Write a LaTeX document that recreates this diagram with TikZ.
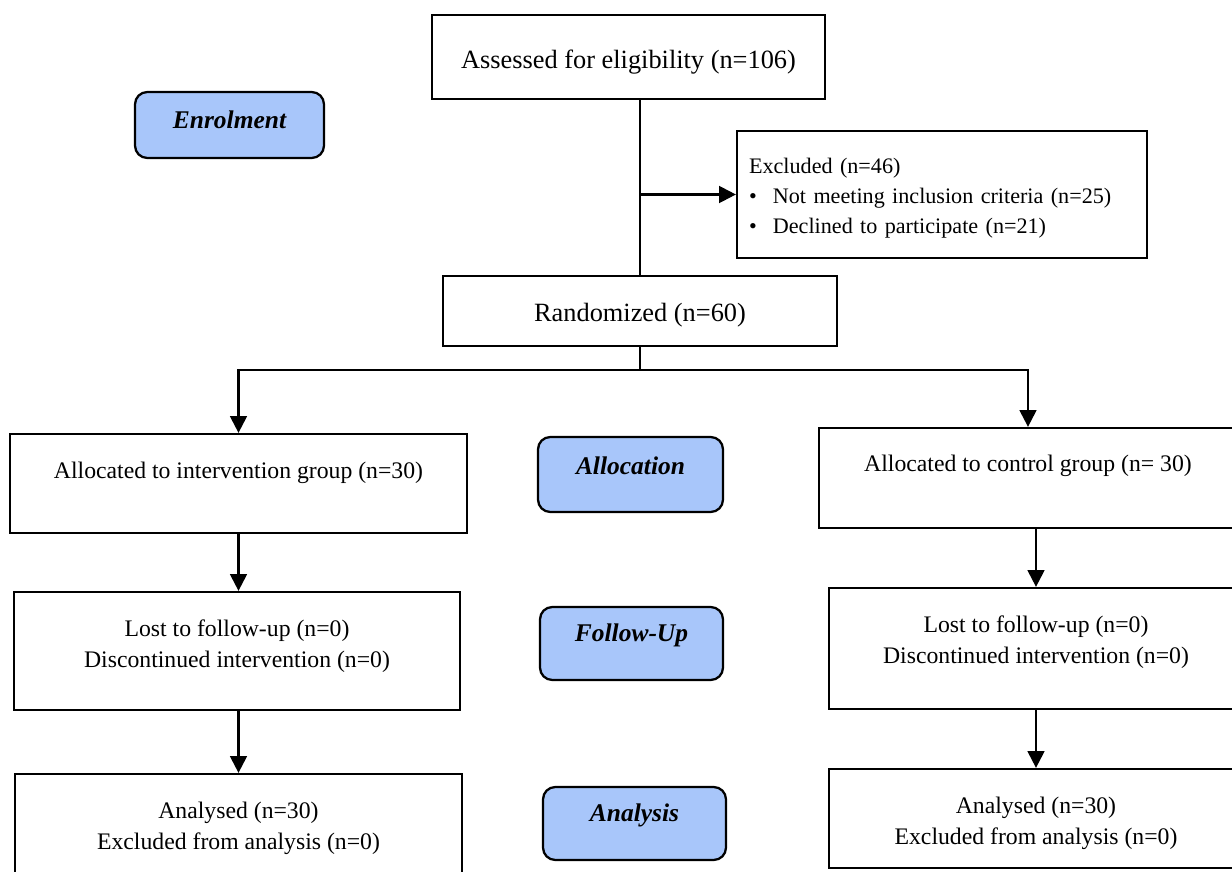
\documentclass[tikz,border=0pt]{standalone}
\usepackage{fontspec}
\setmainfont{Liberation Serif}
\usetikzlibrary{arrows.meta}
\definecolor{stageblue}{RGB}{168,198,250}
% struts to move node text up (depth) or down (height)
\newcommand{\lowstrut}[1]{\rule[-#1]{0pt}{#1}}
\newcommand{\highstrut}[1]{\rule{0pt}{#1}}

\begin{document}
\begin{tikzpicture}[x=0.02cm, y=-0.02cm,
    box/.style={draw, line width=1.3pt, align=center, inner sep=0pt, font=\fontsize{13.5}{17.5}\selectfont},
    bigbox/.style={box, font=\fontsize{15}{18}\selectfont},
    stage/.style={draw, line width=1.3pt, fill=stageblue, rounded corners=7pt, inner sep=0pt,
      minimum height=1.46cm, font=\fontsize{14.5}{17}\selectfont\bfseries\itshape},
    link/.style={line width=1.3pt},
    arr/.style={link, -{Triangle[length=9.5pt, width=9.5pt]}}]
  \clip (0, 0) rectangle (1232, 872);
  % stage labels
  \node[stage, minimum width=3.78cm, minimum height=1.32cm, text depth=5.7pt] (enrolment) at (229.5, 125) {Enrolment};
  \node[stage, minimum width=3.7cm, minimum height=1.5cm, text depth=9.7pt] (allocation) at (630.5, 474.5) {Allocation};
  \node[stage, minimum width=3.66cm, text depth=12pt] (followup) at (631.5, 643.5) {Follow-Up};
  \node[stage, minimum width=3.66cm, text depth=12.7pt] (analysis) at (634.5, 823.5) {Analysis};
  % enrolment
  \node[bigbox, minimum width=7.86cm, minimum height=1.68cm, text height=16pt] (assessed) at (628.5, 57) {Assessed for eligibility (n=106)};
  \node[box, align=left, text width=7.72cm, inner xsep=0.24cm, minimum height=2.54cm, font=\fontsize{12.6}{17}\selectfont] (excluded) at (942, 194.5)
    {\highstrut{13.3pt}Excluded (n=46)\\
     \makebox[13.6pt][l]{\textbullet}Not meeting inclusion criteria (n=25)\\
     \makebox[13.6pt][l]{\textbullet}Declined to participate (n=21)};
  \node[bigbox, minimum width=7.88cm, minimum height=1.4cm, text height=15pt] (randomized) at (640, 311) {Randomized (n=60)};
  \coordinate (split) at (640, 370);
  % groups
  \node[box, minimum width=9.14cm, minimum height=1.98cm, text depth=15pt] (allocint) at (238.5, 483.5) {Allocated to intervention group (n=30)};
  \node[box, minimum width=8.36cm, minimum height=2cm, text depth=16.6pt] (allocctrl) at (1028, 478) {Allocated to control group (n= 30)};
  \node[box, minimum width=8.92cm, minimum height=2.36cm] (lostint) at (237, 651) {Lost to follow-up (n=0)\\Discontinued intervention (n=0)\lowstrut{8.6pt}};
  \node[box, minimum width=8.28cm, minimum height=2.42cm] (lostctrl) at (1036, 648.5) {Lost to follow-up (n=0)\\Discontinued intervention (n=0)\lowstrut{9.8pt}};
  \node[box, minimum width=8.94cm, minimum height=2.08cm] (analint) at (238.5, 826) {\highstrut{12.1pt}Analysed (n=30)\\Excluded from analysis (n=0)};
  \node[box, minimum width=8.28cm, minimum height=1.98cm] (analctrl) at (1036, 818.5) {\highstrut{15pt}Analysed (n=30)\\Excluded from analysis (n=0)};
  % connectors
  \draw[link] (randomized.north) -- (randomized.north |- assessed.south);
  \draw[arr] (randomized.north |- excluded.west) -- (excluded.west);
  \draw[link] (randomized.south) -- (split);
  \draw[arr] (split) -| (allocint.north);
  \draw[arr] (split) -| (allocctrl.north);
  \draw[arr] (allocint.south) -- (allocint.south |- lostint.north);
  \draw[arr] (allocctrl.south -| lostctrl.north) -- (lostctrl.north);
  \draw[arr] (lostint.south -| analint.north) -- (analint.north);
  \draw[arr] (lostctrl.south) -- (analctrl.north);
\end{tikzpicture}
\end{document}
